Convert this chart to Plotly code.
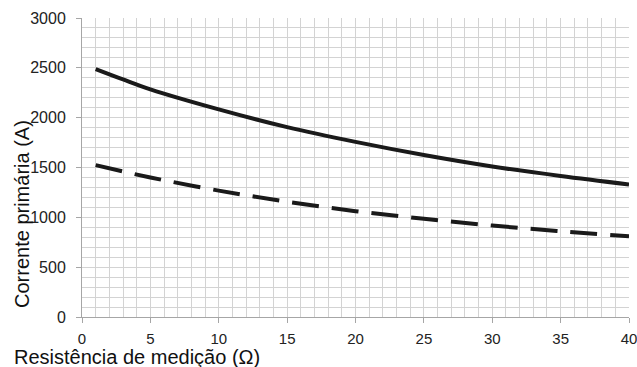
import plotly.graph_objects as go

resistencia = [1, 3, 5, 10, 15, 20, 25, 30, 35, 40]
corrente_solida = [2487, 2383, 2284, 2083, 1905, 1757, 1625, 1510, 1415, 1330]
corrente_tracejada = [1524, 1460, 1400, 1268, 1157, 1062, 985, 918, 860, 810]
x_ticks = [0, 5, 10, 15, 20, 25, 30, 35, 40]
y_ticks = [0, 500, 1000, 1500, 2000, 2500, 3000]

fig = go.Figure()
fig.add_trace(go.Scatter(x=resistencia, y=corrente_solida, mode="lines",
                         line=dict(color="#1a1a1a", width=4, shape="spline"),
                         showlegend=False, cliponaxis=False))
fig.add_trace(go.Scatter(x=resistencia, y=corrente_tracejada, mode="lines",
                         line=dict(color="#1a1a1a", width=4, shape="spline", dash="27px,13px"),
                         showlegend=False, cliponaxis=False))

grid_col = "#d3d3d3"
axis_col = "#a6a6a6"
fig.update_layout(
    width=637, height=367,
    margin=dict(l=82, r=8, t=18, b=50, autoexpand=False),
    plot_bgcolor="white", paper_bgcolor="white",
    font=dict(family="Liberation Sans, Arial, sans-serif", color="#222"),
    xaxis=dict(range=[0, 40], tickvals=x_ticks, ticktext=[str(v) for v in x_ticks],
               showgrid=True, gridcolor=grid_col, gridwidth=1,
               minor=dict(dtick=1, showgrid=True, gridcolor=grid_col, gridwidth=1),
               showline=True, linecolor=axis_col, linewidth=1,
               ticks="outside", ticklen=5, tickcolor=axis_col,
               tickfont=dict(size=15), zeroline=False, fixedrange=True,
               automargin=False, ticklabelstandoff=3, ticklabeloverflow="allow"),
    yaxis=dict(range=[0, 3000], tickvals=y_ticks, ticktext=[str(v) for v in y_ticks],
               showgrid=True, gridcolor=grid_col, gridwidth=1,
               minor=dict(dtick=100, showgrid=True, gridcolor=grid_col, gridwidth=1),
               showline=True, linecolor=axis_col, linewidth=1,
               ticks="outside", ticklen=5, tickcolor=axis_col,
               tickfont=dict(size=16), zeroline=False, fixedrange=True,
               automargin=False, ticklabelstandoff=7, ticklabeloverflow="allow"),
    annotations=[
        dict(text="Resistência de medição (Ω)", xref="paper", yref="paper",
             x=-0.128, y=-0.09, xanchor="left", yanchor="top", showarrow=False,
             font=dict(size=20, color="#111")),
        dict(text="Corrente primária (A)", xref="paper", yref="paper",
             x=-0.11, y=0.344, xanchor="center", yanchor="middle", textangle=-90,
             showarrow=False, font=dict(size=20, color="#111")),
    ],
)

fig.write_html("out.html", config={"displayModeBar": False},
               post_script="document.body.style.margin='0';")
